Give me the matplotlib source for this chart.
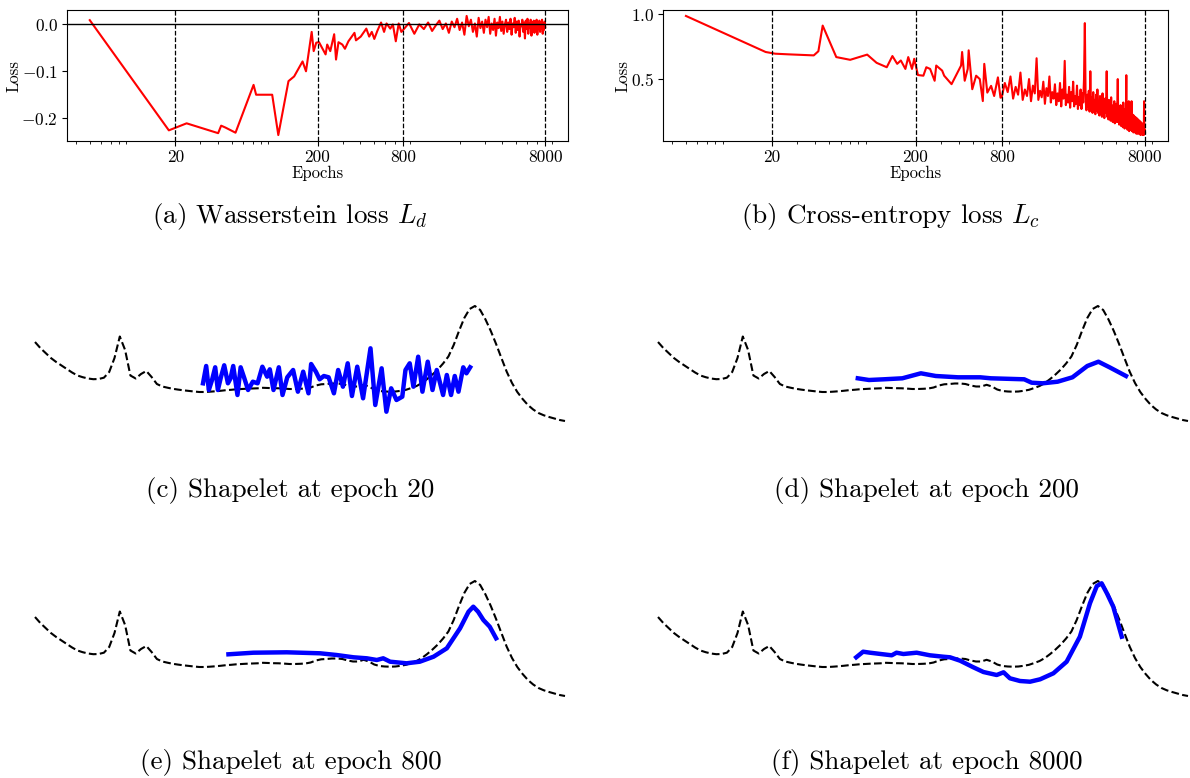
import numpy as np
import matplotlib
matplotlib.use('Agg')
import matplotlib.pyplot as plt
from matplotlib.ticker import NullFormatter

plt.rcParams['font.family'] = ['cmr10', 'DejaVu Sans']
plt.rcParams['mathtext.fontset'] = 'cm'
plt.rcParams['axes.formatter.use_mathtext'] = True

# ---- loss curves ----
# early epochs, logged sparsely
wd_epochs = [5, 18, 24, 40, 42, 45, 53, 71, 74, 96, 106, 125, 137, 157, 166, 182, 188, 196, 205, 228,
             234, 246, 262, 270, 281, 299, 312, 330, 364, 373, 403, 441, 462, 482, 502, 527, 560, 588,
             612, 650, 678, 711, 745, 778]
wd_loss = [0.009, -0.226, -0.211, -0.232, -0.216, -0.220, -0.231, -0.129, -0.150, -0.150,
           -0.236, -0.121, -0.111, -0.079, -0.100, -0.016, -0.057, -0.039, -0.038, -0.064,
           -0.043, -0.057, -0.021, -0.075, -0.038, -0.043, -0.052, -0.036, -0.018, -0.034,
           -0.026, -0.009, -0.026, -0.016, -0.031, -0.014, 0.004, -0.016, 0.002, -0.009,
           0.000, -0.036, 0.002, -0.016]

ce_epochs = [5, 18, 21, 26, 39, 42, 45, 56, 70, 92, 107, 126, 138, 149, 158, 170, 178, 189, 196, 208,
             227, 238, 253, 272, 279, 307, 317, 357, 416, 423, 441, 463, 470, 498, 530, 562, 590, 604,
             634, 674, 708, 752, 784]
ce_loss = [0.985, 0.708, 0.695, 0.690, 0.682, 0.714, 0.911, 0.669, 0.648, 0.688,
           0.625, 0.591, 0.677, 0.617, 0.643, 0.578, 0.669, 0.578, 0.656, 0.531,
           0.526, 0.591, 0.578, 0.487, 0.604, 0.565, 0.526, 0.461, 0.604, 0.708,
           0.487, 0.578, 0.721, 0.422, 0.526, 0.500, 0.331, 0.617, 0.396, 0.448,
           0.370, 0.513, 0.357]

# later epochs: Wasserstein loss every 80 epochs, cross-entropy every 40 epochs
wd_late_epochs = np.arange(800, 8001, 80)
wd_late = [-0.012, 0.003, -0.020, 0.000, -0.010, 0.004, -0.014, -0.002, 0.008, -0.010,
           0.002, -0.018, 0.006, -0.006, 0.012, -0.012, 0.004, -0.022, 0.018, -0.004,
           0.010, -0.016, 0.002, -0.026, 0.014, -0.008, 0.006, -0.018, 0.010, -0.006,
           0.016, -0.020, 0.002, -0.012, 0.012, -0.024, 0.004, -0.008, 0.016, -0.014,
           0.006, -0.020, 0.000, 0.010, -0.016, 0.004, -0.010, 0.012, -0.022, 0.002,
           -0.006, 0.014, -0.018, 0.006, -0.012, 0.008, -0.026, 0.000, -0.004, 0.010,
           -0.016, 0.004, -0.030, 0.008, -0.010, 0.012, -0.020, 0.002, -0.008, 0.010,
           -0.024, 0.004, -0.012, 0.008, -0.018, 0.006, -0.006, 0.010, -0.022, 0.000,
           -0.010, 0.008, -0.016, 0.004, -0.008, 0.010, -0.020, 0.002, -0.012, 0.006,
           -0.006]

ce_late_epochs = np.arange(800, 8001, 40)
ce_late = [0.36, 0.47, 0.40, 0.52, 0.35, 0.44, 0.38, 0.55, 0.34, 0.42,
           0.37, 0.50, 0.33, 0.45, 0.39, 0.66, 0.34, 0.41, 0.36, 0.48,
           0.31, 0.43, 0.37, 0.52, 0.32, 0.40, 0.35, 0.46, 0.30, 0.39,
           0.33, 0.47, 0.29, 0.42, 0.35, 0.64, 0.30, 0.38, 0.32, 0.44,
           0.28, 0.40, 0.33, 0.48, 0.29, 0.37, 0.31, 0.45, 0.27, 0.36,
           0.30, 0.42, 0.27, 0.39, 0.32, 0.50, 0.93, 0.33, 0.26, 0.38,
           0.29, 0.41, 0.25, 0.56, 0.28, 0.36, 0.24, 0.40, 0.27, 0.34,
           0.23, 0.38, 0.26, 0.42, 0.24, 0.33, 0.22, 0.37, 0.25, 0.31,
           0.21, 0.39, 0.23, 0.33, 0.20, 0.35, 0.24, 0.30, 0.56, 0.21,
           0.32, 0.19, 0.34, 0.22, 0.29, 0.18, 0.36, 0.21, 0.28, 0.17,
           0.30, 0.19, 0.33, 0.16, 0.27, 0.20, 0.31, 0.17, 0.26, 0.50,
           0.17, 0.29, 0.15, 0.26, 0.18, 0.30, 0.14, 0.25, 0.16, 0.28,
           0.13, 0.32, 0.15, 0.24, 0.12, 0.27, 0.14, 0.23, 0.53, 0.13,
           0.25, 0.11, 0.22, 0.14, 0.33, 0.10, 0.21, 0.13, 0.26, 0.11,
           0.20, 0.33, 0.10, 0.23, 0.12, 0.19, 0.09, 0.22, 0.11, 0.18,
           0.09, 0.21, 0.10, 0.17, 0.08, 0.20, 0.11, 0.16, 0.08, 0.19,
           0.09, 0.15, 0.08, 0.18, 0.10, 0.14, 0.07, 0.17, 0.09, 0.13,
           0.08, 0.16, 0.07, 0.14, 0.09, 0.12, 0.07, 0.33, 0.08, 0.11,
           0.09]

mark_epochs = [20, 200, 800, 8000]
mark_labels = ['20', '200', '800', '8000']

# ---- time series and learned shapelets ----
series = [8.8, 8.2, 7.7, 7.2, 6.8, 6.45, 6.1, 5.75, 5.45, 5.28,
          5.15, 5.08, 5.1, 5.23, 5.8, 7.2, 9.35, 8.0, 5.45, 5.15,
          5.6, 5.9, 5.3, 4.6, 4.35, 4.23, 4.12, 4.04, 3.97, 3.91,
          3.85, 3.8, 3.8, 3.83, 3.87, 3.92, 3.98, 4.02, 4.07, 4.1,
          4.13, 4.15, 4.17, 4.22, 4.2, 4.18, 4.17, 4.14, 4.1, 4.1,
          4.12, 4.15, 4.25, 4.45, 4.57, 4.6, 4.65, 4.65, 4.6, 4.45,
          4.35, 4.35, 4.52, 4.35, 4.05, 3.9, 3.85, 3.83, 3.85, 3.92,
          4.02, 4.2, 4.4, 4.7, 5.1, 5.55, 6.05, 6.65, 7.35, 8.5,
          9.9, 11.2, 12.1, 12.4, 12.0, 11.05, 9.9, 8.6, 7.2, 5.83,
          4.7, 3.8, 3.1, 2.5, 2.05, 1.7, 1.47, 1.3, 1.15, 1.0, 0.9]

shp20_t = [31.7, 32.3, 32.8, 33.4, 34.0, 34.5, 35.1, 35.7, 36.4, 36.9, 37.4, 38.2, 38.8, 39.5, 40.2,
           41.1, 42.0, 42.9, 43.8, 44.3, 45.0, 46.0, 46.7, 47.6, 48.7, 49.6, 50.6, 51.6, 52.1, 53.0,
           53.7, 54.5, 55.4, 56.4, 57.2, 58.1, 59.0, 59.8, 60.8, 61.9, 63.3, 64.2, 65.4, 66.3, 67.2,
           68.2, 69.3, 69.9, 70.7, 71.4, 72.3, 73.1, 74.1, 75.0, 75.8, 77.0, 77.7, 78.5, 79.2, 79.9,
           80.8, 81.4, 82.1]
shp20_v = [4.67, 6.4, 4.0, 5.0, 6.27, 4.0, 5.33, 6.47, 4.67, 5.17, 6.4, 3.5, 6.27, 5.17, 4.0,
           4.83, 4.67, 6.33, 5.33, 6.07, 4.0, 6.27, 3.5, 5.27, 6.0, 3.83, 5.83, 3.67, 6.6, 5.83,
           5.07, 5.4, 5.27, 3.67, 6.0, 4.33, 6.67, 3.4, 6.33, 3.17, 8.17, 2.5, 6.17, 1.83, 4.17,
           3.0, 3.33, 6.0, 6.67, 4.33, 7.33, 3.83, 6.83, 4.0, 6.0, 3.5, 5.5, 3.5, 5.4, 3.83,
           6.27, 5.67, 6.27]

shp200_t = [37.7, 39.8, 42.6, 46.1, 49.6, 52.4, 56.6, 60.8, 62.8, 69.1, 70.5, 72.6, 75.4, 78.2,
            81.0, 83.1, 85.2, 88.3]
shp200_v = [5.17, 5.0, 5.07, 5.17, 5.67, 5.4, 5.27, 5.27, 5.17, 5.07, 4.73, 4.67, 4.83, 5.27,
            6.4, 6.83, 6.27, 5.4]

shp800_t = [36.5, 41.2, 47.5, 53.8, 56.9, 60.1, 62.6, 64.5, 65.7, 67.0, 70.1, 72.6, 75.2, 77.7,
            80.2, 81.8, 82.7, 83.6, 84.6, 85.8, 87.0]
shp800_v = [5.07, 5.23, 5.27, 5.17, 5.0, 4.77, 4.67, 4.5, 4.67, 4.33, 4.17, 4.33, 4.83, 5.67,
            7.67, 9.33, 9.83, 9.33, 8.5, 7.83, 6.67]

shp8000_t = [37.4, 38.7, 40.0, 42.5, 44.1, 45.0, 46.3, 48.8, 51.3, 53.8, 55.1, 57.0, 59.5, 61.4,
             63.9, 65.2, 66.4, 68.3, 70.2, 72.1, 74.6, 77.1, 79.6, 81.5, 82.8, 83.7, 84.7, 85.9, 87.5]
shp8000_v = [4.77, 5.33, 5.23, 5.07, 4.97, 5.23, 5.1, 5.23, 4.97, 4.83, 4.77, 4.43, 3.77, 3.3,
             3.0, 3.27, 2.67, 2.4, 2.33, 2.57, 3.17, 4.33, 6.83, 10.17, 11.9, 12.17, 11.17, 9.83, 6.83]

W, H = 1190, 778
fig = plt.figure(figsize=(W / 100, H / 100), dpi=100)


def px_axes(x0, y0, x1, y1):
    return fig.add_axes([x0 / W, 1 - y1 / H, (x1 - x0) / W, (y1 - y0) / H])


def loss_panel(ax, ep, lo, late_ep, late, hline):
    ax.plot(list(ep) + list(late_ep), list(lo) + list(late), color='red', lw=1.5)
    ax.set_xscale('log')
    for e in mark_epochs:
        ax.axvline(e, color='black', ls='--', lw=0.9)
    if hline:
        ax.axhline(0, color='black', lw=1.0)
    ax.set_xticks(mark_epochs)
    ax.set_xticklabels(mark_labels)
    ax.xaxis.set_minor_formatter(NullFormatter())
    ax.tick_params(labelsize=12.5, pad=3)
    ax.set_xlabel('Epochs', fontsize=12, labelpad=0)
    ax.set_ylabel('Loss', fontsize=12, labelpad=0)


ax_a = px_axes(67, 10, 568, 141)
loss_panel(ax_a, wd_epochs, wd_loss, wd_late_epochs, wd_late, True)
ax_a.set_yticks([-0.2, -0.1, 0.0])

ax_b = px_axes(663, 10, 1168, 141)
loss_panel(ax_b, ce_epochs, ce_loss, ce_late_epochs, ce_late, False)
ax_b.set_yticks([0.5, 1.0])

shapelets = [(0, 0, shp20_t, shp20_v), (623, 0, shp200_t, shp200_v),
             (0, 275, shp800_t, shp800_v), (623, 275, shp8000_t, shp8000_v)]
for dx, dy, t, v in shapelets:
    ax = px_axes(dx + 35, dy + 290, dx + 565, dy + 430)
    ax.plot(range(len(series)), series, color='black', ls='--', lw=1.5, clip_on=False)
    ax.plot(t, v, color='blue', lw=3.2, clip_on=False)
    ax.set_xlim(0, 100)
    ax.set_ylim(0, 14)
    ax.axis('off')

captions = [(290, 216, r'(a) Wasserstein loss $L_d$'),
            (891, 216, r'(b) Cross-entropy loss $L_c$'),
            (290, 490, '(c) Shapelet at epoch 20'),
            (926, 490, '(d) Shapelet at epoch 200'),
            (291, 763, '(e) Shapelet at epoch 800'),
            (927, 763, '(f) Shapelet at epoch 8000')]
for x, y, s in captions:
    fig.text(x / W, 1 - y / H, s, ha='center', va='center', fontsize=19.5)

fig.savefig('out.png', dpi=100)
